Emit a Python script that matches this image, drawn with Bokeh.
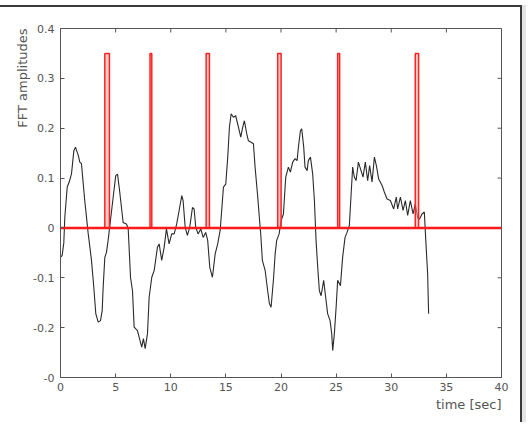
import numpy as np
from bokeh.plotting import figure
from bokeh.models import Range1d, FixedTicker, Title
from bokeh.embed import file_html
from bokeh.resources import INLINE

# ---- data ----
x_ticks = [0, 5, 10, 15, 20, 25, 30, 35, 40]
x_tick_labels = ["0", "5", "10", "15", "20", "25", "30", "35", "40"]
y_ticks = [0.4, 0.3, 0.2, 0.1, 0.0, -0.1, -0.2, -0.3]
y_tick_labels = ["0.4", "0.3", "0.2", "0.1", "0", "-0.1", "-0.2", "-0"]

curve_t = [0.05, 0.15, 0.30, 0.39, 0.61, 0.79, 1.00, 1.21, 1.36, 1.51, 1.62, 1.75, 1.90,
           2.20, 2.51, 2.81, 3.02, 3.20, 3.42, 3.63, 3.78, 3.87, 4.02, 4.17, 4.32, 4.53,
           4.78, 5.01, 5.17, 5.32, 5.53, 5.68, 5.98, 6.14, 6.35, 6.53, 6.68, 6.98, 7.13,
           7.37, 7.52, 7.68, 7.89, 8.04, 8.28, 8.50, 8.79, 8.95, 9.18, 9.40, 9.61, 9.85,
           10.09, 10.31, 10.54, 10.76, 11.00, 11.12, 11.31, 11.51, 11.72, 11.97, 12.12,
           12.27, 12.48, 12.72, 12.94, 13.17, 13.35, 13.54, 13.78, 14.03, 14.26, 14.48,
           14.62, 14.78, 14.99, 15.17, 15.32, 15.48, 15.68, 15.89, 16.14, 16.35, 16.53,
           16.68, 16.89, 17.04, 17.29, 17.50, 17.65, 17.89, 18.01, 18.16, 18.31, 18.56,
           18.79, 18.95, 19.10, 19.31, 19.47, 19.61, 19.83, 20.01, 20.22, 20.43, 20.67,
           20.85, 21.06, 21.28, 21.46, 21.58, 21.76, 21.88, 22.06, 22.18, 22.37, 22.48,
           22.67, 22.87, 23.03, 23.18, 23.33, 23.48, 23.64, 23.87, 24.09, 24.23, 24.45,
           24.60, 24.69, 24.84, 25.00, 25.14, 25.39, 25.59, 25.81, 25.99, 26.20, 26.36,
           26.50, 26.65, 26.81, 27.02, 27.26, 27.44, 27.65, 27.86, 28.04, 28.26, 28.47,
           28.65, 28.86, 29.17, 29.37, 29.62, 29.92, 30.22, 30.46, 30.58, 30.83, 31.07,
           31.28, 31.49, 31.73, 31.98, 32.18, 32.39, 32.57, 32.79, 33.00, 33.15, 33.30,
           33.39]
curve_v = [-0.058, -0.055, -0.030, 0.021, 0.082, 0.092, 0.109, 0.155, 0.162, 0.152, 0.145,
           0.132, 0.129, 0.055, -0.011, -0.065, -0.119, -0.172, -0.189, -0.186, -0.166,
           -0.119, -0.059, -0.049, -0.025, 0.015, 0.062, 0.105, 0.108, 0.082, 0.041, 0.011,
           0.008, -0.001, -0.099, -0.126, -0.199, -0.206, -0.219, -0.239, -0.222, -0.242,
           -0.212, -0.139, -0.099, -0.085, -0.039, -0.032, -0.065, -0.039, -0.002, -0.032,
           -0.012, -0.012, 0.008, 0.035, 0.065, 0.055, 0.001, -0.015, 0.001, 0.041, 0.038,
           0.001, -0.012, -0.002, -0.019, -0.009, -0.025, -0.079, -0.099, -0.052, -0.032,
           -0.005, 0.035, 0.082, 0.088, 0.142, 0.202, 0.229, 0.222, 0.225, 0.202, 0.182,
           0.202, 0.215, 0.189, 0.175, 0.172, 0.169, 0.122, 0.062, 0.028, -0.012, -0.065,
           -0.085, -0.126, -0.152, -0.159, -0.105, -0.052, -0.025, -0.012, 0.015, 0.028,
           0.102, 0.122, 0.112, 0.132, 0.139, 0.135, 0.162, 0.195, 0.199, 0.162, 0.122,
           0.115, 0.135, 0.142, 0.109, 0.055, -0.025, -0.079, -0.126, -0.136, -0.105,
           -0.146, -0.172, -0.186, -0.212, -0.246, -0.212, -0.159, -0.105, -0.116, -0.059,
           -0.019, -0.009, 0.005, 0.068, 0.122, 0.102, 0.095, 0.132, 0.115, 0.102, 0.132,
           0.095, 0.125, 0.092, 0.142, 0.125, 0.098, 0.085, 0.072, 0.058, 0.055, 0.038,
           0.062, 0.038, 0.062, 0.035, 0.055, 0.025, 0.055, 0.028, 0.048, 0.021, 0.018,
           0.028, 0.032, -0.032, -0.092, -0.172]

pulse_start = [4.02, 8.12, 13.21, 19.70, 25.14, 32.18]
pulse_end = [4.44, 8.28, 13.51, 20.01, 25.32, 32.48]
pulse_height = 0.35
signal_end = 40.0

X0, X1, Y0, Y1 = 0, 40, -0.3, 0.4

# ---- build red step trace from pulses ----
step_x = [0.0]
step_y = [0.0]
for s, e in zip(pulse_start, pulse_end):
    step_x += [s, s, e, e]
    step_y += [0.0, pulse_height, pulse_height, 0.0]
step_x.append(signal_end)
step_y.append(0.0)

AX = "#555555"
FONT = "DejaVu Sans"

p = figure(width=522, height=417, output_backend="svg", toolbar_location=None,
           x_range=Range1d(X0, X1), y_range=Range1d(Y0, Y1),
           min_border_left=60, min_border_right=21, min_border_top=21, min_border_bottom=47,
           background_fill_color="white", border_fill_color="white",
           styles={"margin-top": "5px", "border-top": "2px solid #3a3a3a",
                   "border-right": "2px solid #3a3a3a",
                   "box-shadow": "4px 0 0 0 #e4e4e4"})
p.grid.visible = False
p.outline_line_color = AX
p.outline_line_width = 1

for ax in (p.xaxis[0], p.yaxis[0]):
    ax.axis_line_color = AX
    ax.major_tick_line_color = AX
    ax.major_tick_in = 4
    ax.major_tick_out = 0
    ax.minor_tick_line_color = None
    ax.major_label_text_font = FONT
    ax.major_label_text_font_size = "11px"
    ax.major_label_text_color = "#555555"

p.xaxis.ticker = FixedTicker(ticks=x_ticks)
p.xaxis.major_label_overrides = {t: l for t, l in zip(x_ticks, x_tick_labels)}
p.yaxis.ticker = FixedTicker(ticks=y_ticks)
p.yaxis.major_label_overrides = {t: l for t, l in zip(y_ticks, y_tick_labels)}
p.xaxis.major_label_standoff = 5
p.yaxis.major_label_standoff = 6

# inward ticks on the top and right edges of the box
tick_dx = (X1 - X0) * 4 / 441
tick_dy = (Y1 - Y0) * 4 / 349
p.segment(x0=x_ticks, x1=x_ticks, y0=[Y1] * len(x_ticks), y1=[Y1 - tick_dy] * len(x_ticks),
          line_color=AX, line_width=1)
p.segment(x0=[X1] * len(y_ticks), x1=[X1 - tick_dx] * len(y_ticks), y0=y_ticks, y1=y_ticks,
          line_color=AX, line_width=1)

# black curve
p.line(curve_t, curve_v, line_color="#2a2a2a", line_width=1.1)

# pulses (light fill) and red step trace
p.quad(left=pulse_start, right=pulse_end, bottom=0, top=pulse_height,
       fill_color="#ff9999", fill_alpha=0.5, line_color=None)
p.line(step_x, step_y, line_color="#ff2020", line_width=1.5)
p.line([0, signal_end], [0, 0], line_color="#ff1a1a", line_width=2.4)

# axis labels as titles in the side panels
p.add_layout(Title(text="time [sec]", align="right", text_font=FONT, text_font_size="13px",
                   text_font_style="normal", text_color="#555555", standoff=2), "below")
p.add_layout(Title(text="FFT amplitudes", align="right", text_font=FONT, text_font_size="13px",
                   text_font_style="normal", text_color="#555555", standoff=2), "left")

open("out.html", "w").write(file_html(p, INLINE))
